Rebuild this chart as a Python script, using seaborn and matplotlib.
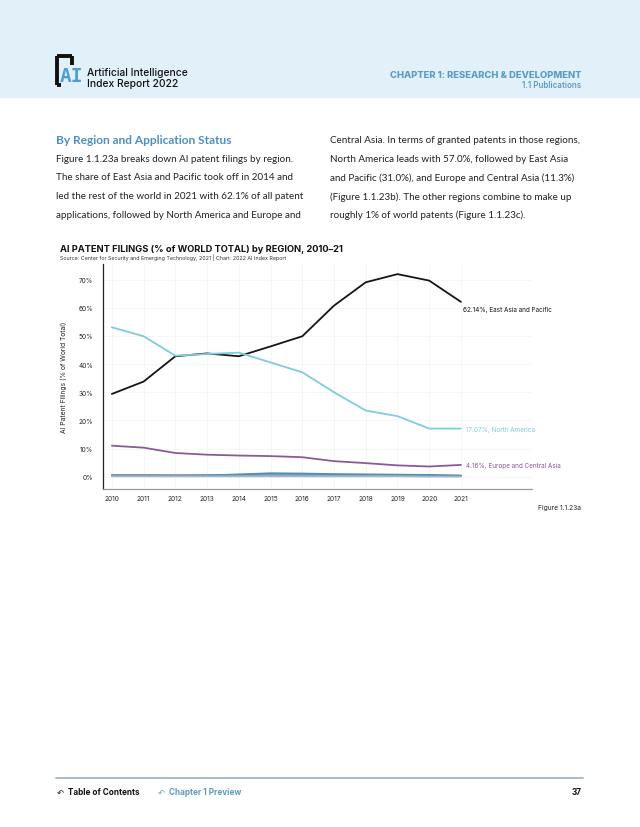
import numpy as np
import pandas as pd
import matplotlib.pyplot as plt
import seaborn as sns
from matplotlib.patches import Rectangle
from matplotlib.lines import Line2D

# data
years = list(range(2010, 2022))
east_asia = [29.4, 33.8, 42.8, 43.8, 42.8, 46.3, 49.9, 60.8, 69.1, 72.0, 69.7, 62.14]
north_america = [53.1, 49.9, 43.0, 43.6, 44.1, 40.6, 37.1, 30.0, 23.5, 21.5, 17.1, 17.07]
europe = [11.0, 10.3, 8.4, 7.8, 7.5, 7.3, 6.9, 5.5, 4.8, 4.0, 3.6, 4.16]
latin_america = [0.5, 0.5, 0.5, 0.5, 0.6, 0.7, 0.6, 0.5, 0.5, 0.4, 0.4, 0.4]
middle_east = [0.6, 0.6, 0.5, 0.5, 0.5, 0.5, 0.5, 0.5, 0.5, 0.5, 0.4, 0.3]
south_asia = [0.3, 0.3, 0.3, 0.4, 0.8, 1.2, 1.1, 0.9, 0.8, 0.7, 0.6, 0.3]
sub_saharan = [0.1, 0.1, 0.1, 0.1, 0.1, 0.1, 0.1, 0.1, 0.1, 0.1, 0.0, 0.0]

regions = ['East Asia and Pacific', 'North America', 'Europe and Central Asia',
           'Latin America and Caribbean', 'Middle East and North Africa',
           'South Asia', 'Sub-Saharan Africa']
colors = ['#151515', '#7fcbe0', '#8b5a96', '#98a8bc', '#8797ad', '#4f8fb3', '#a9b7c7']
y_ticks = [0, 10, 20, 30, 40, 50, 60, 70]

series = [east_asia, north_america, europe, latin_america, middle_east, south_asia, sub_saharan]
df = pd.DataFrame({
    'year': years * len(regions),
    'share': sum(series, []),
    'region': [r for r in regions for _ in years],
})

sns.set_theme(style='white')
plt.rcParams['font.family'] = ['Inter', 'DejaVu Sans']

W, H = 640, 828
fig = plt.figure(figsize=(6.4, 8.28), dpi=100)


def fx(x):
    return x / W


def fy(y):
    return 1 - y / H


# header band
fig.patches.append(Rectangle((0, fy(98)), 1, 98 / H, transform=fig.transFigure,
                             color='#e2f0fa', zorder=0))
# logo
for xs, ys in [([57, 57], [57, 86]), ([57, 72], [57, 57]), ([72, 72], [57, 66]), ([57, 61], [86, 86])]:
    fig.add_artist(Line2D([fx(v) for v in xs], [fy(v) for v in ys], color='#111111', lw=2.8,
                          solid_capstyle='butt', transform=fig.transFigure))
fig.text(fx(60), fy(77), 'AI', fontsize=14, fontweight='bold', color='#4d9fd0',
         family='DejaVu Sans Mono', va='center', ha='left')
fig.text(fx(87), fy(73), 'Artificial Intelligence', fontsize=7.4, fontweight='medium',
         color='#111111', va='center')
fig.text(fx(87), fy(84), 'Index Report 2022', fontsize=7.4, fontweight='medium',
         color='#111111', va='center')
fig.text(fx(581), fy(75), 'CHAPTER 1: RESEARCH & DEVELOPMENT', fontsize=6.8, fontweight='heavy',
         color='#5c9cc2', ha='right', va='center')
fig.text(fx(581), fy(85), '1.1 Publications', fontsize=5.8, fontweight='semibold',
         color='#5c9cc2', ha='right', va='center')

# body text
body_font = ['Lato', 'DejaVu Sans']
fig.text(fx(56), fy(141), 'By Region and Application Status', fontsize=8.6, fontweight='bold',
         color='#4b90c2', va='center', family=body_font)
left_lines = ['Figure 1.1.23a breaks down AI patent filings by region.',
              'The share of East Asia and Pacific took off in 2014 and',
              'led the rest of the world in 2021 with 62.1% of all patent',
              'applications, followed by North America and Europe and']
right_lines = ['Central Asia. In terms of granted patents in those regions,',
               'North America leads with 57.0%, followed by East Asia',
               'and Pacific (31.0%), and Europe and Central Asia (11.3%)',
               '(Figure 1.1.23b). The other regions combine to make up',
               'roughly 1% of world patents (Figure 1.1.23c).']
for i, s in enumerate(left_lines):
    fig.text(fx(56), fy(159 + 18.8 * i), s, fontsize=7.15, color='#222222', va='center', family=body_font)
for i, s in enumerate(right_lines):
    fig.text(fx(330), fy(140.5 + 18.8 * i), s, fontsize=7.15, color='#222222', va='center', family=body_font)

# chart title
fig.text(fx(60), fy(249), 'AI PATENT FILINGS (% of WORLD TOTAL) by REGION, 2010–21', fontsize=6.7,
         fontweight='bold', color='#111111', va='center')
fig.text(fx(60), fy(258), 'Source: Center for Security and Emerging Technology, 2021 | Chart: 2022 AI Index Report',
         fontsize=3.85, color='#333333', va='center')

# plot
ax = fig.add_axes([fx(103), fy(490), (532 - 103) / W, (490 - 265) / H])
sns.lineplot(data=df, x='year', y='share', hue='region', hue_order=regions,
             palette=colors, linewidth=1.3, legend=False, ax=ax)
ax.set_xlim(2009.72, 2023.24)
ax.set_ylim(-4.4, 75.6)
ax.set_xticks(years)
ax.set_xticklabels([str(y) for y in years], fontsize=4.7, color='#222222')
ax.set_yticks(y_ticks)
ax.set_yticklabels([f'{v}%' for v in y_ticks], fontsize=4.7, color='#222222')
ax.tick_params(axis='x', length=0, pad=4)
ax.tick_params(axis='y', length=0, pad=7)
ax.set_xlabel('')
ax.set_ylabel('AI Patent Filings (% of World Total)', fontsize=4.8, color='#222222', labelpad=8)
ax.grid(True, color='#f3f5f7', lw=0.6)
for side in ['top', 'right']:
    ax.spines[side].set_visible(False)
ax.spines['left'].set_color('#222222')
ax.spines['left'].set_linewidth(0.9)
ax.spines['bottom'].set_color('#9a9a9a')
ax.spines['bottom'].set_linewidth(0.9)

# end labels
ax.annotate(f'{east_asia[-1]:.2f}%, East Asia and Pacific', (years[-1], east_asia[-1]),
            xytext=(1.5, -5), textcoords='offset points', fontsize=4.6, color='#151515', va='center')
ax.annotate(f'{north_america[-1]:.2f}%, North America', (years[-1], north_america[-1]),
            xytext=(3.5, 0), textcoords='offset points', fontsize=4.6, color='#7fcbe0', va='center')
ax.annotate(f'{europe[-1]:.2f}%, Europe and Central Asia', (years[-1], europe[-1]),
            xytext=(3.5, 0), textcoords='offset points', fontsize=4.6, color='#8b5a96', va='center')

fig.text(fx(581), fy(508), 'Figure 1.1.23a', fontsize=4.8, color='#222222', ha='right', va='center')

# footer
fig.add_artist(Line2D([fx(56), fx(583)], [fy(779), fy(779)], color='#a8bcc8', lw=1.4,
                      transform=fig.transFigure))
fig.text(fx(57), fy(793), '↶', fontsize=6, color='#111111', va='center', family='DejaVu Sans')
fig.text(fx(68), fy(793), 'Table of Contents', fontsize=5.9, fontweight='bold', color='#111111', va='center')
fig.text(fx(158), fy(793), '↶', fontsize=6, color='#5c9cc2', va='center', family='DejaVu Sans')
fig.text(fx(169), fy(793), 'Chapter 1 Preview', fontsize=5.9, fontweight='bold', color='#5c9cc2', va='center')
fig.text(fx(582), fy(793), '37', fontsize=5.9, fontweight='bold', color='#111111', ha='right', va='center')

plt.savefig('out.png', dpi=100, facecolor='white')
plt.close()
